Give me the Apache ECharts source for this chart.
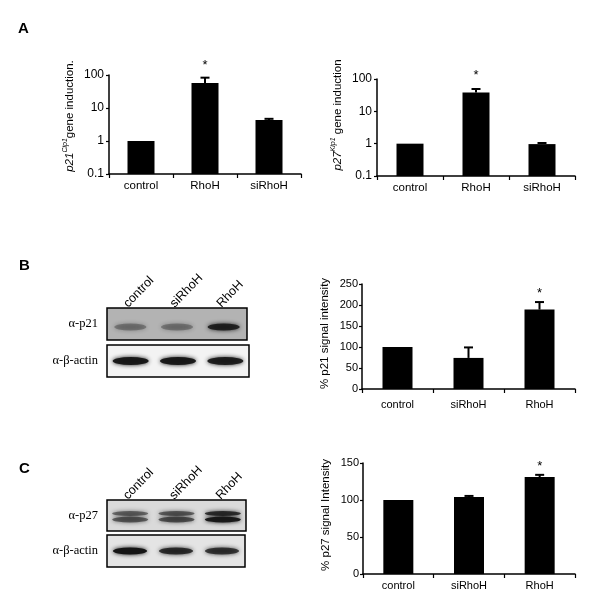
<!DOCTYPE html>
<html>
<head>
<meta charset="utf-8">
<script src="https://cdn.jsdelivr.net/npm/echarts@6/dist/echarts.min.js"></script>
<style>
  html, body { margin: 0; padding: 0; background: #fff; }
  #main { width: 600px; height: 601px; }
</style>
</head>
<body>
<div id="main"></div>
<script>
// categories
const catsA = ['control', 'RhoH', 'siRhoH']
const catsBC = ['control', 'siRhoH', 'RhoH']
const lanes = ['control', 'siRhoH', 'RhoH']

// A: gene induction (log scale), mean and upper error
const p21Induction = [1, 57, 4.3]
const p21InductionSd = [0, 26, 0.4]
const p27Induction = [1, 38, 0.97]
const p27InductionSd = [0, 11, 0.08]
const starA = [0, 1, 0]

// B / C: % signal intensity
const p21Signal = [100, 74, 189]
const p21SignalSd = [0, 25, 18]
const p27Signal = [100, 104, 131]
const p27SignalSd = [0, 1.5, 3]
const starBC = [0, 0, 1]

// blot band intensities per lane (0..1)
const p21Band = [0.3, 0.3, 0.85]
const actinBandB = [0.95, 0.95, 0.9]
const p27BandUpper = [0.5, 0.55, 0.8]
const p27BandLower = [0.55, 0.6, 0.95]
const actinBandC = [1.0, 0.8, 0.75]

const SANS = "'Liberation Sans', Arial, sans-serif"
const SERIF = "'Liberation Serif', 'Times New Roman', serif"

const chart = echarts.init(document.getElementById('main'))

function catAxis(gridIndex, data, fontSize, margin) {
  return {
    type: 'category', gridIndex: gridIndex, data: data,
    axisLine: { lineStyle: { color: '#000', width: 1.5 } },
    axisTick: { show: true, length: 4, lineStyle: { color: '#000', width: 1.2 } },
    axisLabel: { color: '#000', fontSize: fontSize, fontFamily: SANS, margin: margin }
  }
}

function yName(name, pad, gap, rich) {
  return {
    name: name, nameLocation: 'middle', nameGap: gap,
    nameTextStyle: { color: '#000', fontSize: 11.5, fontFamily: SANS, padding: [0, 0, 0, pad], rich: rich }
  }
}

const supRich = {
  i: { fontStyle: 'italic', fontSize: 11.5, fontFamily: SANS, color: '#000', lineHeight: 16 },
  s: { fontStyle: 'italic', fontSize: 7, fontFamily: SANS, color: '#000', lineHeight: 8, verticalAlign: 'top' },
  t: { fontSize: 11.5, fontFamily: SANS, color: '#000', lineHeight: 16 }
}

function logAxis(gridIndex, name, pad) {
  return Object.assign({
    type: 'log', logBase: 10, min: 0.1, max: 100, gridIndex: gridIndex,
    splitLine: { show: false },
    axisLine: { show: true, lineStyle: { color: '#000', width: 1.5 } },
    axisTick: { show: true, length: 3, lineStyle: { color: '#000', width: 1.2 } },
    axisLabel: {
      color: '#000', fontSize: 12, fontFamily: SANS, margin: 5,
      formatter: function (v) { return v < 1 ? '0.1' : String(Math.round(v)) }
    }
  }, yName(name, pad, 31, supRich))
}

function linAxis(gridIndex, max, name, pad) {
  return Object.assign({
    type: 'value', min: 0, max: max, interval: 50, gridIndex: gridIndex,
    splitLine: { show: false },
    axisLine: { show: true, lineStyle: { color: '#000', width: 1.5 } },
    axisTick: { show: true, length: 3, lineStyle: { color: '#000', width: 1.2 } },
    axisLabel: { color: '#000', fontSize: 11, fontFamily: SANS, margin: 4 }
  }, yName(name, pad, 31))
}

function logBars(axisIndex, values) {
  return {
    type: 'custom', xAxisIndex: axisIndex, yAxisIndex: axisIndex, clip: false, silent: true,
    data: values.map((v, i) => [i, v]),
    encode: { x: 0, y: 1 },
    renderItem: function (params, api) {
      const i = api.value(0)
      const top = api.coord([i, api.value(1)])
      const bot = api.coord([i, 0.1])
      return {
        type: 'rect',
        shape: { x: top[0] - 13.5, y: top[1], width: 27, height: bot[1] - top[1] },
        style: { fill: '#000' }
      }
    }
  }
}

function linBars(axisIndex, values) {
  return {
    type: 'bar', xAxisIndex: axisIndex, yAxisIndex: axisIndex, silent: true,
    barWidth: 30, itemStyle: { color: '#000' }, data: values
  }
}

function errBars(axisIndex, values, sd, stars, starGap) {
  return {
    type: 'custom', xAxisIndex: axisIndex, yAxisIndex: axisIndex, clip: false, silent: true,
    data: values.map((v, i) => [i, v, v + sd[i], stars[i]]),
    encode: { x: 0, y: [1, 2] },
    renderItem: function (params, api) {
      const i = api.value(0)
      const low = api.coord([i, api.value(1)])
      const high = api.coord([i, api.value(2)])
      const children = []
      if (high[1] < low[1] - 0.5) {
        children.push({ type: 'line', shape: { x1: low[0], y1: low[1], x2: high[0], y2: high[1] },
          style: { stroke: '#000', lineWidth: 2 } })
        children.push({ type: 'line', shape: { x1: high[0] - 4.5, y1: high[1], x2: high[0] + 4.5, y2: high[1] },
          style: { stroke: '#000', lineWidth: 2 } })
      }
      if (api.value(3)) {
        children.push({ type: 'text', x: high[0], y: high[1] - starGap,
          style: { text: '*', align: 'center', verticalAlign: 'middle', fontSize: 13, fontFamily: SANS, fill: '#000' } })
      }
      return { type: 'group', children: children }
    }
  }
}

function bands(axisIndex, row, intens, size, offset) {
  return {
    type: 'scatter', xAxisIndex: axisIndex, yAxisIndex: axisIndex, silent: true,
    symbol: 'circle', symbolSize: size, symbolOffset: [0, offset],
    itemStyle: { color: '#151515', shadowBlur: 4, shadowColor: '#151515' },
    data: lanes.map((l, i) => ({ value: [l, row], itemStyle: { opacity: intens[i] } }))
  }
}

function blotX(gridIndex, showLabels) {
  return {
    type: 'category', gridIndex: gridIndex, data: lanes, position: 'top', show: showLabels,
    axisLine: { show: false }, axisTick: { show: false },
    axisLabel: { color: '#000', fontSize: 12.5, fontFamily: SANS, rotate: -46, margin: -2, verticalAlign: 'bottom' }
  }
}

function blotY(gridIndex, label) {
  return {
    type: 'category', gridIndex: gridIndex, data: [label],
    axisLine: { show: false }, axisTick: { show: false },
    axisLabel: { color: '#000', fontSize: 12.5, fontFamily: SERIF, margin: 9 }
  }
}

const blotGrid = (left, top, width, height, bg) => ({
  left: left, top: top, width: width, height: height, show: true,
  backgroundColor: bg, borderColor: '#000', borderWidth: 1.5
})

chart.setOption({
  animation: false,
  backgroundColor: '#fff',
  graphic: [
    { type: 'text', left: 18, top: 21, style: { text: 'A', fontSize: 15, fontWeight: 'bold', fontFamily: SANS, fill: '#000' } },
    { type: 'text', left: 19, top: 258, style: { text: 'B', fontSize: 15, fontWeight: 'bold', fontFamily: SANS, fill: '#000' } },
    { type: 'text', left: 19, top: 461, style: { text: 'C', fontSize: 15, fontWeight: 'bold', fontFamily: SANS, fill: '#000' } }
  ],
  grid: [
    { left: 109, top: 75, width: 192, height: 99 },
    { left: 377, top: 79, width: 198, height: 97 },
    { left: 362, top: 284, width: 213, height: 105 },
    { left: 363, top: 463, width: 212, height: 111 },
    blotGrid(107, 308, 140, 32, '#b3b3b3'),
    blotGrid(107, 345, 142, 32, '#f3f3f3'),
    blotGrid(107, 500, 139, 31, '#dadada'),
    blotGrid(107, 535, 138, 32, '#e4e4e4')
  ],
  xAxis: [
    catAxis(0, catsA, 11.5, 6),
    catAxis(1, catsA, 11.5, 6),
    catAxis(2, catsBC, 11, 10),
    catAxis(3, catsBC, 11, 6),
    blotX(4, true),
    blotX(5, false),
    blotX(6, true),
    blotX(7, false)
  ],
  yAxis: [
    logAxis(0, '{i|p21}{s|Cip1}{t|gene induction.}', 17),
    logAxis(1, '{i|p27}{s|Kip1}{t| gene induction}', 25),
    linAxis(2, 250, '% p21 signal intensity', 6),
    linAxis(3, 150, '% p27 signal Intensity', 7),
    blotY(4, 'α-p21'),
    blotY(5, 'α-β-actin'),
    blotY(6, 'α-p27'),
    blotY(7, 'α-β-actin')
  ],
  series: [
    logBars(0, p21Induction),
    errBars(0, p21Induction, p21InductionSd, starA, 12),
    logBars(1, p27Induction),
    errBars(1, p27Induction, p27InductionSd, starA, 14),
    linBars(2, p21Signal),
    errBars(2, p21Signal, p21SignalSd, starBC, 9),
    linBars(3, p27Signal),
    errBars(3, p27Signal, p27SignalSd, starBC, 8),
    bands(4, 'α-p21', p21Band, [32, 7], 3),
    bands(5, 'α-β-actin', actinBandB, [36, 8], 0),
    bands(6, 'α-p27', p27BandUpper, [36, 5], -2),
    bands(6, 'α-p27', p27BandLower, [36, 6], 4),
    bands(7, 'α-β-actin', actinBandC, [34, 7], 0)
  ]
})
</script>
</body>
</html>
